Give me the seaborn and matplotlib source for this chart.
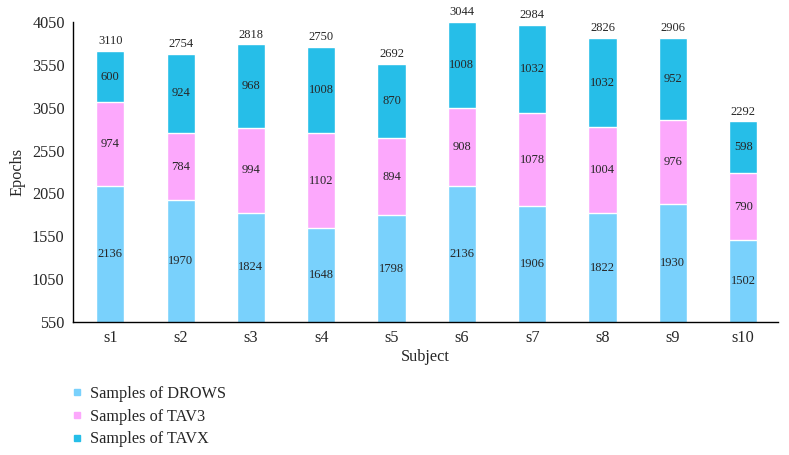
import matplotlib
matplotlib.use("Agg")
import matplotlib.pyplot as plt
import numpy as np
import pandas as pd
import seaborn as sns
from matplotlib.lines import Line2D

subjects = ["s1", "s2", "s3", "s4", "s5", "s6", "s7", "s8", "s9", "s10"]
drows = [2136, 1970, 1824, 1648, 1798, 2136, 1906, 1822, 1930, 1502]
tav3 = [974, 784, 994, 1102, 894, 908, 1078, 1004, 976, 790]
tavx = [600, 924, 968, 1008, 870, 1008, 1032, 1032, 952, 598]
top_labels = [3110, 2754, 2818, 2750, 2692, 3044, 2984, 2826, 2906, 2292]

c_drows = "#79d1fc"
c_tav3 = "#fca8fc"
c_tavx = "#26bee8"

df = pd.DataFrame({"Subject": subjects, "DROWS": drows, "TAV3": tav3, "TAVX": tavx})
df["lvl2"] = df["DROWS"] + df["TAV3"]
df["lvl3"] = df["lvl2"] + df["TAVX"]

sns.set_style("white")
plt.rcParams["font.family"] = ["Liberation Serif", "DejaVu Serif"]

fig = plt.figure(figsize=(7.89, 4.55), dpi=100)
ax = fig.add_axes([0.0925, 0.292, 0.894, 0.66])

# stack by overdrawing cumulative totals
sns.barplot(data=df, x="Subject", y="lvl3", color=c_tavx, width=0.4, saturation=1, ax=ax)
sns.barplot(data=df, x="Subject", y="lvl2", color=c_tav3, width=0.4, saturation=1, ax=ax)
sns.barplot(data=df, x="Subject", y="DROWS", color=c_drows, width=0.4, saturation=1, ax=ax)

ymin, ymax = 550, 4050
ax.set_ylim(ymin, ymax)
ax.set_xlim(-0.53, 9.5)
ax.set_yticks(np.arange(550, 4051, 500))

for i in range(len(subjects)):
    d = df["DROWS"][i]
    l2 = df["lvl2"][i]
    l3 = df["lvl3"][i]
    ax.text(i, (max(d, ymin) + ymin) / 2, str(drows[i]), ha="center", va="center", fontsize=9)
    ax.text(i, (d + l2) / 2, str(tav3[i]), ha="center", va="center", fontsize=9)
    ax.text(i, (l2 + l3) / 2, str(tavx[i]), ha="center", va="center", fontsize=9)
    ax.text(i, l3 + 45, str(top_labels[i]), ha="center", va="bottom", fontsize=9)

sns.despine(ax=ax)
ax.spines["left"].set_color("black")
ax.spines["bottom"].set_color("black")
ax.spines["left"].set_linewidth(1.0)
ax.spines["bottom"].set_linewidth(1.0)
ax.tick_params(axis="both", length=0, labelsize=11.7)
ax.tick_params(axis="x", pad=6)
ax.tick_params(axis="y", pad=6)
ax.set_xlabel("Subject", fontsize=11.7, labelpad=2)
ax.set_ylabel("Epochs", fontsize=11.7, labelpad=5)

handles = [
    Line2D([], [], marker="s", linestyle="", markersize=5, color=c_drows, label="Samples of DROWS"),
    Line2D([], [], marker="s", linestyle="", markersize=5, color=c_tav3, label="Samples of TAV3"),
    Line2D([], [], marker="s", linestyle="", markersize=5, color=c_tavx, label="Samples of TAVX"),
]
fig.legend(handles=handles, loc="upper left", bbox_to_anchor=(0.087, 0.152), frameon=False,
           fontsize=11.7, handletextpad=0.3, labelspacing=0.42, handlelength=1.0,
           borderaxespad=0, borderpad=0)

fig.savefig("out.png", dpi=100)
